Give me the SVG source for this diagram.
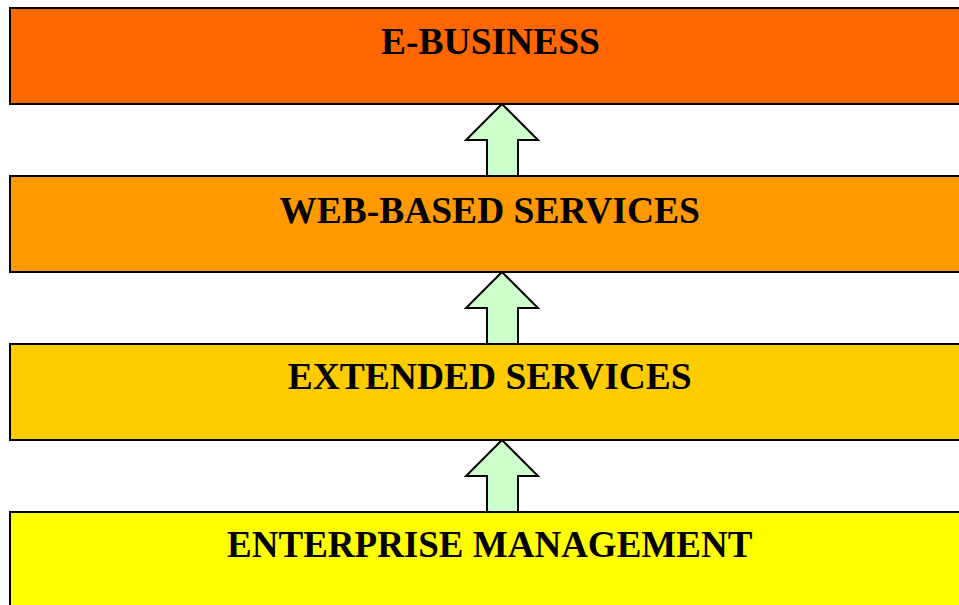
<svg xmlns="http://www.w3.org/2000/svg" width="959" height="605" viewBox="0 0 959 605">
<style>
.box{stroke:#000;stroke-width:2}
.lbl{font-family:"Liberation Serif","Times New Roman",serif;font-weight:bold;font-size:37.5px;fill:#000;text-anchor:middle}
.arr{fill:#CCFFCC;stroke:#000;stroke-width:2;stroke-linejoin:miter}
</style>
<defs>
<path id="up" class="arr" d="M0,0 L36,36 L16,36 L16,72 L-15,72 L-15,36 L-36,36 Z"/>
</defs>
<rect width="959" height="605" fill="#fff"/>
<g id="connectors">
<use href="#up" x="502" y="104"/>
<use href="#up" x="502" y="272"/>
<use href="#up" x="502" y="440"/>
</g>
<g id="ebusiness">
<rect class="box" x="10" y="8" width="960" height="96" fill="#FF6600"/>
<text class="lbl" x="490.5" y="54">E-BUSINESS</text>
</g>
<g id="webbased">
<rect class="box" x="10" y="176" width="960" height="96" fill="#FF9900"/>
<text class="lbl" x="489.5" y="222.5">WEB-BASED SERVICES</text>
</g>
<g id="extended">
<rect class="box" x="10" y="344" width="960" height="96" fill="#FFCC00"/>
<text class="lbl" x="489.7" y="388.5">EXTENDED SERVICES</text>
</g>
<g id="enterprise">
<rect class="box" x="10" y="512" width="960" height="96" fill="#FFFF00"/>
<text class="lbl" x="489.7" y="556.5" style="font-size:37px">ENTERPRISE MANAGEMENT</text>
</g>
</svg>
